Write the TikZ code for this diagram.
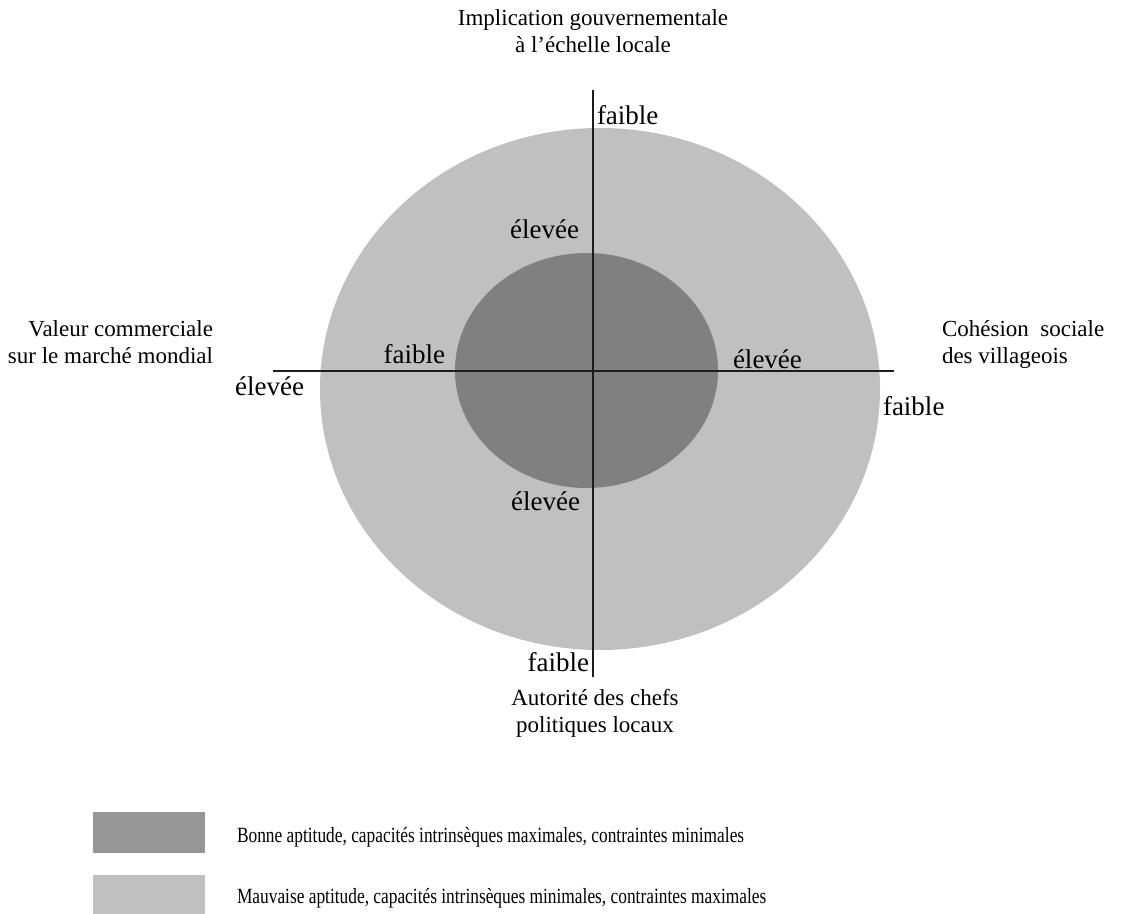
\documentclass[tikz,border=0pt]{standalone}
\usepackage{fontspec}
\setmainfont{Liberation Serif}
\newfontfamily\keyfont[FakeStretch=0.8]{Liberation Serif}
\definecolor{outergray}{RGB}{192,192,192}
\definecolor{innergray}{RGB}{128,128,128}
\definecolor{keygray}{RGB}{150,150,150}
\definecolor{axisblack}{RGB}{28,28,28}
\tikzset{
	level/.style={font=\fontsize{27}{32}\selectfont},
	axistitle/.style={align=center, font=\fontsize{23}{27}\selectfont},
	keytext/.style={anchor=base west, font=\keyfont\fontsize{21.7}{26}\selectfont},
	keybox/.style={minimum width=112pt, minimum height=41pt},
	axis/.style={draw=axisblack, line width=2.2pt}
}
\begin{document}
\begin{tikzpicture}[x=1pt, y=-1pt, every node/.style={inner sep=0pt, outer sep=0pt}]
		\useasboundingbox (0,0) rectangle (1135,913);
		\fill[outergray] (600,389) ellipse [x radius=280pt, y radius=261pt];
		\fill[innergray] (586.5,370.5) ellipse [x radius=131.5pt, y radius=117.5pt];
		\coordinate (top) at (593,90);
		\coordinate (bottom) at (593,677);
		\coordinate (left) at (273,371);
		\coordinate (right) at (894,371);
		\draw[axis] (top) -- (bottom);
		\draw[axis] (left) -- (right);
		\node[axistitle, anchor=north] (gouv) at (593,10) {Implication gouvernementale\\à l’échelle locale};
		\node[axistitle, anchor=north] (chefs) at (595,689) {Autorité des chefs\\politiques locaux};
		\node[axistitle, anchor=north east, align=right] (valeur) at (213,321) {Valeur commerciale\\sur le marché mondial};
		\node[axistitle, anchor=north west, align=left] (cohesion) at (942,321) {Cohésion~ sociale\\des villageois};
		\node[level, anchor=base west] (gouvlow) at (597,124) {faible};
		\node[level, anchor=base east] (gouvhigh) at (579,238) {élevée};
		\node[level, anchor=base east] (valeurlow) at (445,363) {faible};
		\node[level, anchor=base east] (valeurhigh) at (304,395) {élevée};
		\node[level, anchor=base west] (cohesionhigh) at (733,368) {élevée};
		\node[level, anchor=base west] (cohesionlow) at (883,415) {faible};
		\node[level, anchor=base east] (chefshigh) at (580,510) {élevée};
		\node[level, anchor=base east] (chefslow) at (589,671) {faible};
		\node[keybox, fill=keygray] (goodbox) at (149,832.5) {};
		\node[keybox, fill=outergray] (badbox) at (149,895.5) {};
		\node[keytext] (goodtext) at (237,842) {Bonne aptitude, capacités intrinsèques maximales, contraintes minimales};
		\node[keytext] (badtext) at (237,903) {Mauvaise aptitude, capacités intrinsèques minimales, contraintes maximales};
	\end{tikzpicture}
\end{document}
